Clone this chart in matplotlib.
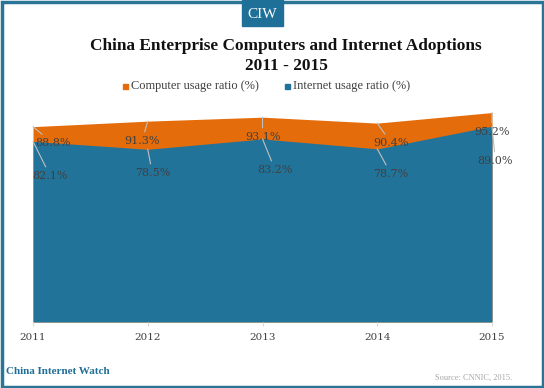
import matplotlib
matplotlib.use('Agg')
import matplotlib.pyplot as plt
from matplotlib.patches import Rectangle

# ===== DADOS =====
years = [2011, 2012, 2013, 2014, 2015]
computer_ratio = [88.8, 91.3, 93.1, 90.4, 95.2]
internet_ratio = [82.1, 78.5, 83.2, 78.7, 89.0]

# posições dos rótulos (dados) - layout
comp_lbl_pos = [(2011.17, 81.4), (2011.95, 82.3), (2013.0, 84.1), (2014.12, 81.4), (2015.0, 86.4)]
int_lbl_pos = [(2011.15, 66.4), (2012.04, 67.7), (2013.11, 69.1), (2014.12, 67.3), (2015.03, 73.2)]

c_orange = '#E46C0A'
c_blue = '#22739A'
c_text = '#404040'
c_lead = '#BFBFBF'
serif = 'DejaVu Serif'
times = 'Liberation Serif'

plt.rcParams['font.family'] = serif

fig = plt.figure(figsize=(5.44, 3.88), dpi=100)
ax = fig.add_axes([33 / 544, 66 / 388, 459 / 544, 220 / 388])

ax.fill_between(years, computer_ratio, color=c_orange, linewidth=0)
ax.fill_between(years, internet_ratio, color=c_blue, linewidth=0)

for x, v, pos in zip(years, computer_ratio, comp_lbl_pos):
    ax.annotate(f'{v:.1f}%', xy=(x, v), xytext=pos, ha='center', va='center',
                fontsize=8, color=c_text, annotation_clip=False,
                arrowprops=dict(arrowstyle='-', color=c_lead, lw=0.8, shrinkA=1, shrinkB=0))
for x, v, pos in zip(years, internet_ratio, int_lbl_pos):
    ax.annotate(f'{v:.1f}%', xy=(x, v), xytext=pos, ha='center', va='center',
                fontsize=8, color=c_text, annotation_clip=False,
                arrowprops=dict(arrowstyle='-', color=c_lead, lw=0.8, shrinkA=1, shrinkB=0))

ax.set_xlim(2011, 2015)
ax.set_ylim(0, 100)
ax.set_xticks(years)
ax.set_xticklabels([str(y) for y in years], fontsize=7.5, color=c_text)
ax.tick_params(axis='x', length=3, color='#D9D9D9', pad=5)
ax.set_yticks([])
for s in ax.spines.values():
    s.set_visible(False)

# ===== TÍTULO E LEGENDA =====
fig.text(286 / 544, 1 - 46 / 388, 'China Enterprise Computers and Internet Adoptions',
         ha='center', va='center', fontsize=12.4, fontweight='bold', color='#111111',
         family=times)
fig.text(286 / 544, 1 - 66 / 388, '2011 - 2015',
         ha='center', va='center', fontsize=12.4, fontweight='bold', color='#111111',
         family=times)

fig.patches.append(Rectangle((123 / 544, 1 - 89 / 388), 5 / 544, 5 / 388,
                             transform=fig.transFigure, color=c_orange))
fig.text(131 / 544, 1 - 86 / 388, 'Computer usage ratio (%)', ha='left', va='center',
         fontsize=8.9, color=c_text, family=times)
fig.patches.append(Rectangle((285 / 544, 1 - 89 / 388), 5 / 544, 5 / 388,
                             transform=fig.transFigure, color=c_blue))
fig.text(293 / 544, 1 - 86 / 388, 'Internet usage ratio (%)', ha='left', va='center',
         fontsize=8.9, color=c_text, family=times)

# ===== MOLDURA / CIW =====
fig.patches.append(Rectangle((1.5 / 544, 1.5 / 388), 541 / 544, 385 / 388,
                             transform=fig.transFigure, fill=False,
                             edgecolor='#2A7496', linewidth=2.5))
fig.patches.append(Rectangle((242 / 544, 1 - 26 / 388), 41 / 544, 26 / 388,
                             transform=fig.transFigure, color='#1F7099'))
fig.text(262.5 / 544, 1 - 14 / 388, 'CIW', ha='center', va='center',
         fontsize=11, color='white', family=times)

fig.text(6 / 544, 1 - 372 / 388, 'China Internet Watch', ha='left', va='center',
         fontsize=8, fontweight='bold', color='#1F6E96', family=times)
fig.text(512 / 544, 1 - 378 / 388, 'Source: CNNIC, 2015.', ha='right', va='center',
         fontsize=6, color='#A6A6A6', family=times)

plt.savefig('out.png', dpi=100)
